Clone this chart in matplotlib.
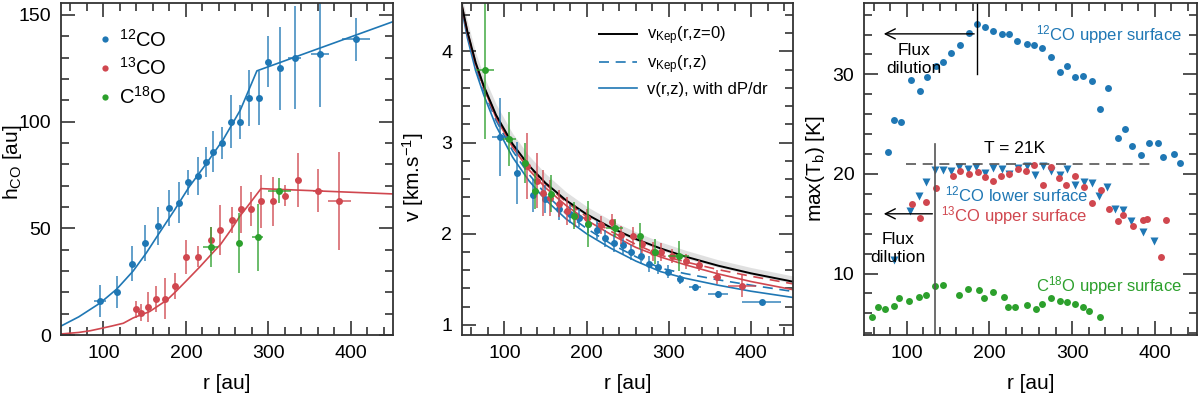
import matplotlib
matplotlib.use('Agg')
import matplotlib.pyplot as plt
from matplotlib.ticker import MultipleLocator

plt.rcParams['font.family'] = ['Liberation Sans', 'DejaVu Sans']
plt.rcParams['mathtext.fontset'] = 'custom'
plt.rcParams['mathtext.rm'] = 'Liberation Sans'
plt.rcParams['mathtext.it'] = 'Liberation Sans:italic'
plt.rcParams['mathtext.bf'] = 'Liberation Sans:bold'

blue = '#1f77b4'
red = '#d0474f'
green = '#2ca02c'

# ---- panel 1 : emission height ----
r12 = [96, 116, 135, 150, 166, 180, 192, 203, 214, 224, 233, 244, 254, 265, 277, 288, 299, 314, 332, 362, 406]
h12 = [16, 20, 33.5, 43, 51, 59.5, 62, 71.5, 74.5, 81, 86, 90, 100, 100, 111, 111, 128, 125, 130, 131.5, 138.5]
h12_err = [7.5, 7.5, 8, 8.5, 9, 8.5, 9.5, 6, 9, 7, 9.5, 7.5, 12.5, 8, 13, 12.5, 12, 19.5, 24, 24.5, 10]
r12_err = [7, 3, 2, 2, 2, 2, 2, 2, 2, 2, 2, 2, 2, 2, 2, 2, 2, 3, 8, 11, 17]

r13 = [139, 146, 154, 164, 174, 187, 200, 215, 230, 241, 256, 267, 279, 291, 306, 320, 336, 360, 386]
h13 = [12, 10.5, 13.3, 17, 17, 23, 36.7, 36.7, 44.5, 49.2, 54, 59, 59, 62.7, 62.7, 65.3, 72.7, 67.7, 62.7]
h13_err = [4, 4, 7, 6, 9.5, 6, 8, 5, 6, 11.5, 6, 11, 8, 12.5, 11.5, 5, 12.5, 10, 23]
r13_err = [2, 2, 2, 2, 2, 2, 2, 2, 2, 2, 2, 2, 2, 2, 2, 2, 4, 6, 14]

r18 = [230, 264, 287, 313]
h18 = [41.4, 43, 45.8, 67.7]
h18_err = [9.4, 14, 15.6, 6]
r18_err = [9, 2, 7, 14]

mod12_r = [49, 70, 96, 116, 136, 152, 168, 186, 204, 225, 245, 266, 286, 452]
mod12_h = [4.3, 8.5, 15, 21.5, 30, 38.5, 48, 58.5, 69.5, 80.5, 91.5, 105.5, 123.8, 147]
mod13_r = [49, 70, 84, 96, 110, 124, 136, 156, 177, 188, 202, 217, 230, 242, 254, 265, 278, 291, 452]
mod13_h = [0.5, 1.2, 2, 3, 4.2, 5.5, 8, 11, 16.4, 20.5, 26, 32, 37.5, 42.5, 49, 55.5, 62, 68.6, 66.1]

# ---- panel 2 : rotation velocity ----
rv12 = [95, 115, 135, 150, 167, 180, 191, 202, 213, 222, 233, 244, 254, 266, 276, 287, 299, 313, 332, 360, 413]
v12 = [3.06, 2.67, 2.42, 2.38, 2.27, 2.22, 2.17, 2.11, 2.04, 1.95, 1.895, 1.877, 1.795, 1.753, 1.668, 1.634, 1.585, 1.50, 1.414, 1.336, 1.248]
v12_err = [0.43, 0.34, 0.18, 0.15, 0.12, 0.1, 0.1, 0.1, 0.1, 0.09, 0.1, 0.1, 0.085, 0.08, 0.085, 0.07, 0.07, 0.05, 0.04, 0.035, 0.03]
rv12_err = [10, 3, 2, 3, 2, 2, 2, 2, 2, 2, 2, 2, 2, 2, 2, 2, 2, 3, 7, 12, 24]

rv13 = [127, 140, 147, 156, 166, 176, 186, 201, 217, 231, 242, 256, 267, 281, 291, 304, 321, 337, 358, 389]
v13 = [2.74, 2.58, 2.45, 2.39, 2.33, 2.25, 2.19, 2.17, 2.10, 2.13, 1.985, 1.975, 1.89, 1.805, 1.80, 1.758, 1.697, 1.655, 1.525, 1.432]
v13_err = [0.36, 0.3, 0.25, 0.2, 0.15, 0.15, 0.12, 0.1, 0.1, 0.09, 0.1, 0.1, 0.1, 0.1, 0.1, 0.08, 0.08, 0.06, 0.08, 0.12]
rv13_err = [2, 2, 2, 2, 2, 2, 2, 2, 2, 2, 2, 2, 2, 2, 2, 2, 3, 3, 4, 17]

rv18 = [77, 106, 125, 137, 157, 185, 202, 234, 265, 283, 312]
v18 = [3.79, 3.04, 2.78, 2.47, 2.44, 2.20, 2.11, 2.06, 1.975, 1.805, 1.757]
v18_err = [0.75, 0.3, 0.22, 0.2, 0.2, 0.15, 0.25, 0.1, 0.14, 0.14, 0.16]
rv18_err = [11, 8, 3, 3, 3, 3, 3, 10, 3, 3, 13]

mod_r = [48, 55, 65, 75, 90, 110, 130, 150, 175, 200, 230, 260, 290, 320, 360, 400, 452]
vkep0 = [4.52, 4.22, 3.88, 3.62, 3.30, 2.985, 2.746, 2.557, 2.367, 2.214, 2.065, 1.942, 1.839, 1.750, 1.650, 1.566, 1.473]
vkep0_lo = [4.47, 4.18, 3.84, 3.58, 3.27, 2.955, 2.72, 2.53, 2.345, 2.19, 2.045, 1.922, 1.82, 1.73, 1.632, 1.55, 1.455]
vkep0_hi = [4.62, 4.33, 3.99, 3.73, 3.42, 3.10, 2.855, 2.66, 2.46, 2.30, 2.145, 2.02, 1.91, 1.82, 1.715, 1.63, 1.535]
vkep12 = [4.49, 4.19, 3.84, 3.57, 3.24, 2.91, 2.65, 2.437, 2.222, 2.058, 1.887, 1.748, 1.622, 1.563, 1.495, 1.436, 1.366]
vdp12 = [4.47, 4.15, 3.79, 3.52, 3.18, 2.84, 2.58, 2.373, 2.163, 2.0, 1.838, 1.70, 1.585, 1.512, 1.436, 1.37, 1.30]
vkep13 = [4.52, 4.22, 3.877, 3.616, 3.295, 2.978, 2.736, 2.544, 2.348, 2.188, 2.024, 1.883, 1.765, 1.692, 1.607, 1.534, 1.449]
vdp13 = [4.50, 4.20, 3.86, 3.60, 3.27, 2.95, 2.70, 2.505, 2.31, 2.15, 1.99, 1.85, 1.745, 1.66, 1.56, 1.476, 1.385]

# ---- panel 3 : peak brightness temperature ----
up12_r = [77, 85, 93, 105, 116, 125, 135, 144, 154, 165, 175, 185, 195, 204, 215, 224, 234, 245, 254, 264,
          275, 285, 294, 304, 313, 324, 334, 344, 355, 364, 373, 383, 393, 404, 410, 423, 431]
up12_T = [22.2, 25.4, 25.2, 29.4, 28.3, 29.7, 30.8, 31.2, 32.1, 33.0, 34.2, 35.1, 34.8, 34.4, 34.1, 34.1, 33.4, 33.1, 33.0, 32.7,
          31.7, 30.2, 30.8, 29.7, 29.8, 29.3, 26.5, 28.6, 23.6, 24.5, 22.8, 21.9, 23.1, 23.1, 21.7, 22.0, 21.1]
low12_r = [85, 104, 115, 123, 134, 144, 154, 163, 174, 184, 195, 205, 215, 224, 235, 245, 255, 265, 275, 285,
           294, 304, 314, 324, 333, 342, 352, 362, 371, 386, 399]
low12_T = [11.4, 16.3, 17.8, 19.2, 20.4, 20.4, 20.3, 20.7, 20.5, 20.7, 20.1, 20.6, 20.5, 20.0, 20.6, 20.8, 19.9, 20.8, 20.3, 19.9,
           20.5, 18.9, 19.2, 19.1, 17.8, 18.7, 16.5, 16.4, 15.3, 14.2, 13.3]
up13_r = [107, 116, 124, 136, 156, 165, 176, 186, 195, 204, 214, 224, 235, 244, 254, 265, 275, 284, 293, 303,
          315, 324, 335, 345, 355, 362, 374, 386, 390, 408, 413]
up13_T = [17.0, 15.6, 17.2, 18.6, 19.8, 20.3, 20.0, 20.2, 19.7, 19.3, 19.8, 20.0, 20.5, 20.3, 20.9, 18.9, 20.7, 19.6, 18.9, 19.8,
          18.7, 17.1, 18.4, 16.5, 15.3, 15.9, 14.8, 15.4, 15.5, 11.7, 15.4]
c18_r = [58, 66, 74, 85, 91, 103, 115, 124, 134, 144, 163, 174, 187, 194, 204, 218, 223, 231, 245, 257,
         264, 274, 285, 294, 303, 313, 321, 334]
c18_T = [5.6, 6.6, 6.4, 6.7, 7.5, 7.2, 7.6, 7.8, 8.8, 8.9, 7.8, 8.4, 8.3, 7.5, 8.1, 7.6, 6.6, 6.6, 6.8, 6.4,
         6.9, 7.5, 7.2, 7.1, 6.9, 6.6, 6.2, 5.6]


def points(ax, r, y, yerr, xerr, c, ms=5):
    ax.errorbar(r, y, yerr=yerr, xerr=xerr, fmt='none', ecolor=c, elinewidth=1.4, alpha=0.7, capsize=0)
    ax.plot(r, y, 'o', ms=ms, color=c, mec='none')


def style(ax, ymaj, ymin):
    ax.set_xlim(48.5, 451)
    ax.xaxis.set_major_locator(MultipleLocator(100))
    ax.xaxis.set_minor_locator(MultipleLocator(20))
    ax.yaxis.set_major_locator(MultipleLocator(ymaj))
    ax.yaxis.set_minor_locator(MultipleLocator(ymin))
    ax.tick_params(which='both', direction='in', top=True, right=True, width=1.1, color='#222222',
                   labelsize=14, pad=7)
    ax.tick_params(which='major', length=10)
    ax.tick_params(which='minor', length=6)
    for s in ax.spines.values():
        s.set_linewidth(1.3)
        s.set_color('#333333')
    ax.set_xlabel('r [au]', fontsize=15, labelpad=9)


fig = plt.figure(figsize=(12, 3.98), dpi=100)
bot = 63 / 398
hgt = 332 / 398
ax1 = fig.add_axes([61 / 1200, bot, 332 / 1200, hgt])
ax2 = fig.add_axes([462 / 1200, bot, 331 / 1200, hgt])
ax3 = fig.add_axes([864 / 1200, bot, 333 / 1200, hgt])

# panel 1
ax1.plot(mod12_r, mod12_h, color=blue, lw=1.2)
ax1.plot(mod13_r, mod13_h, color=red, lw=1.2)
points(ax1, r12, h12, h12_err, r12_err, blue)
points(ax1, r13, h13, h13_err, r13_err, red)
points(ax1, r18, h18, h18_err, r18_err, green)
ax1.set_ylim(0, 155.6)
style(ax1, 50, 10)
ax1.set_ylabel(r'h$_{\rm CO}$ [au]', fontsize=15)
ax1.yaxis.set_label_coords(-0.112, 0.52)
hl = [ax1.plot([], [], 'o', ms=4.5, color=c, mec='none')[0] for c in (blue, red, green)]
ax1.legend(hl, [r'$^{12}$CO', r'$^{13}$CO', r'C$^{18}$O'], loc='upper left', bbox_to_anchor=(0.06, 0.978),
           frameon=False, fontsize=14.5, handlelength=0.6, handletextpad=0.4, labelspacing=0.35)

# panel 2
ax2.fill_between(mod_r, vkep0_lo, vkep0_hi, color='#d9d9d9', alpha=0.8, lw=0)
ax2.plot(mod_r, vdp12, color=blue, lw=1.2)
ax2.plot(mod_r, vkep12, color=blue, lw=1.2, dashes=(6, 4))
ax2.plot(mod_r, vdp13, color=red, lw=1.2)
ax2.plot(mod_r, vkep13, color=red, lw=1.2, dashes=(6, 4))
ax2.plot(mod_r, vkep0, color='black', lw=1.4)
points(ax2, rv12, v12, v12_err, rv12_err, blue)
points(ax2, rv13, v13, v13_err, rv13_err, red)
points(ax2, rv18, v18, v18_err, rv18_err, green)
ax2.set_ylim(0.89, 4.53)
style(ax2, 1, 0.2)
ax2.set_ylabel(r'v [km.s$^{-1}$]', fontsize=15)
ax2.yaxis.set_label_coords(-0.108, 0.476)
l1, = ax2.plot([], [], color='black', lw=1.4)
l2, = ax2.plot([], [], color=blue, lw=1.2, dashes=(6, 4))
l3, = ax2.plot([], [], color=blue, lw=1.2)
ax2.legend([l1, l2, l3], [r'v$_{\rm Kep}$(r,z=0)', r'v$_{\rm Kep}$(r,z)', r'v(r,z), with dP/dr'],
           loc='upper right', bbox_to_anchor=(0.97, 0.98), frameon=False, fontsize=12,
           handlelength=2.3, handletextpad=0.6, labelspacing=0.35)

# panel 3
ax3.plot(up12_r, up12_T, 'o', ms=5, color=blue, mec='none')
ax3.plot(low12_r, low12_T, 'v', ms=5.5, color=blue, mec='none')
ax3.plot(up13_r, up13_T, 'o', ms=5, color=red, mec='none')
ax3.plot(c18_r, c18_T, 'o', ms=5, color=green, mec='none')
ax3.set_ylim(3.83, 37.17)
style(ax3, 10, 2)
ax3.set_ylabel(r'max(T$_{\rm b}$) [K]', fontsize=15)
ax3.yaxis.set_label_coords(-0.11, 0.5)

ax3.plot([185, 185], [30, 37.17], color='black', lw=1)
ax3.annotate('', xy=(69, 34.07), xytext=(185, 34.07),
             arrowprops=dict(arrowstyle='->', lw=1, color='black', mutation_scale=18))
ax3.text(109, 31.5, 'Flux\ndilution', ha='center', va='center', fontsize=12.5, linespacing=1.2)
ax3.plot([134.5, 134.5], [3.83, 23], color='#555555', lw=1.2)
ax3.annotate('', xy=(69, 16), xytext=(134.5, 16),
             arrowprops=dict(arrowstyle='->', lw=1, color='black', mutation_scale=18))
ax3.text(89.5, 12.5, 'Flux\ndilution', ha='center', va='center', fontsize=12.5, linespacing=1.2)
ax3.plot([99, 401], [21, 21], color='#555555', lw=1.2, dashes=(6, 4))
ax3.text(230, 22.6, 'T = 21K', ha='center', va='center', fontsize=12.5)
ax3.text(433, 34.0, r'$^{12}$CO upper surface', ha='right', va='center', fontsize=12, color=blue)
ax3.text(233, 17.9, r'$^{12}$CO lower surface', ha='center', va='center', fontsize=12, color=blue)
ax3.text(230, 15.85, r'$^{13}$CO upper surface', ha='center', va='center', fontsize=12, color=red)
ax3.text(433, 8.75, r'C$^{18}$O upper surface', ha='right', va='center', fontsize=12, color=green)

fig.savefig('out.png', dpi=100)
